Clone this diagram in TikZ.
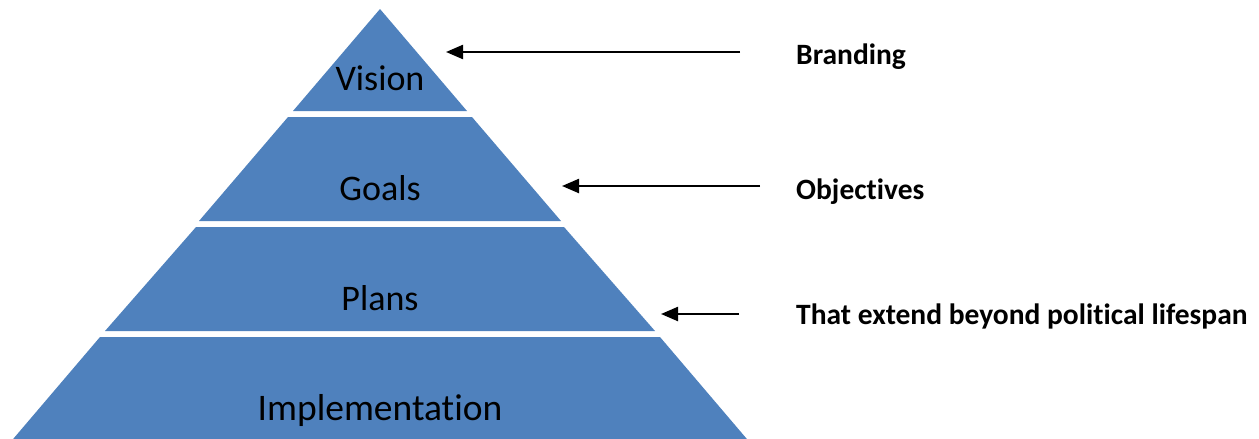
\documentclass[tikz,border=0pt]{standalone}
\usepackage{fontspec}
\setmainfont{Carlito}[RawFeature={-liga}]
\usetikzlibrary{arrows.meta}
\definecolor{layerblue}{HTML}{4F81BD}
\begin{document}
\begin{tikzpicture}[x=1pt,y=-1pt,
  layer/.style={fill=layerblue,draw=none},
  layertext/.style={anchor=base,font=\fontsize{36}{40}\selectfont,inner sep=0pt},
  sidetext/.style={anchor=base west,font=\bfseries\fontsize{29.5}{33}\selectfont,inner sep=0pt},
  pointer/.style={draw=black,line width=2.3pt,-{Triangle[length=17pt,width=14pt]}}]
\useasboundingbox (0,0) rectangle (1259,439);
\begin{scope}
\clip (0,0) rectangle (1259,439);
% pyramid layers, separated by thin white gaps
\fill[layer] (380,9) -- (467,111) -- (293,111) -- cycle;
\fill[layer] (288,117) -- (472,117) -- (561,221) -- (199,221) -- cycle;
\fill[layer] (196,227) -- (564,227) -- (655,331) -- (105,331) -- cycle;
\fill[layer] (100,337) -- (660,337) -- (752,445) -- (8,445) -- cycle;
\end{scope}
% layer captions
\node[layertext] (vision) at (380,90) {Vision};
\node[layertext] (goals) at (380,200) {Goals};
\node[layertext] (plans) at (380,310) {Plans};
\node[layertext,font=\fontsize{37.5}{42}\selectfont] (impl) at (380,420) {Implementation};
% side labels
\node[sidetext] (branding) at (796,64) {Branding};
\node[sidetext] (objectives) at (796,199) {Objectives};
\node[sidetext] (lifespan) at (796,324) {That extend beyond political lifespan};
% pointer ends
\coordinate (brandingstart) at (740,52);
\coordinate (brandingtip) at (446,52);
\coordinate (objectivesstart) at (760,186);
\coordinate (objectivestip) at (562,186);
\coordinate (lifespanstart) at (739,314);
\coordinate (lifespantip) at (661,314);
\draw[pointer] (brandingstart) -- (brandingtip);
\draw[pointer] (objectivesstart) -- (objectivestip);
\draw[pointer] (lifespanstart) -- (lifespantip);
\end{tikzpicture}
\end{document}
